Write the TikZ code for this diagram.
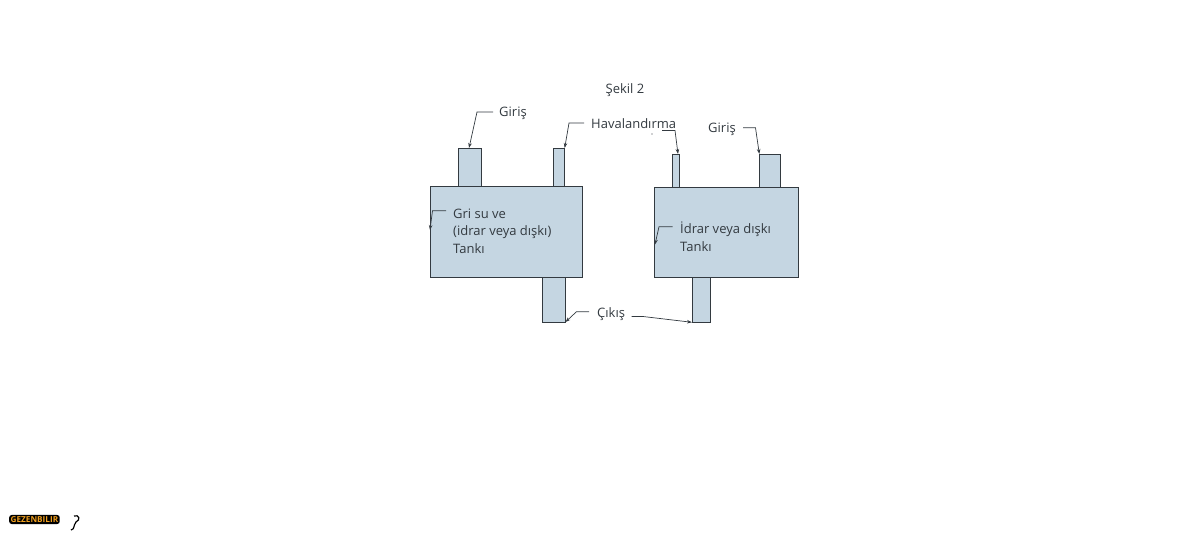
\documentclass[tikz,border=0pt]{standalone}
\usepackage{fontspec}
\setmainfont{Open Sans}
\usetikzlibrary{arrows.meta}
\definecolor{tankfill}{HTML}{C5D6E2}
\definecolor{ink}{HTML}{333A40}
\definecolor{logoorange}{HTML}{F2A01E}
\tikzset{
  x=1pt,y=-1pt,
  partbox/.style={draw=ink,fill=tankfill,line width=0.9pt,inner sep=0pt,minimum width=#1,anchor=north west},
  lbl/.style={font=\fontsize{13}{17.5}\selectfont,text=ink,inner sep=0pt},
  leader/.style={draw=ink,line width=0.7pt,-{Stealth[length=5pt,width=3.5pt]}},
}
\begin{document}
\begin{tikzpicture}
\useasboundingbox (0,0) rectangle (1200,537);
% left tank
\node[partbox=23.5pt,minimum height=38pt] (lin) at (457.8,148.3) {};
\node[partbox=11.5pt,minimum height=38pt] (lvent) at (552.8,148.3) {};
\node[partbox=22.5pt,minimum height=45pt] (lout) at (542.2,277.3) {};
\node[partbox=152pt,minimum height=91pt] (ltank) at (430,186.3) {};
% right tank
\node[partbox=7pt,minimum height=32.5pt] (rvent) at (672,154.2) {};
\node[partbox=20.5pt,minimum height=32.5pt] (rin) at (759.3,154.2) {};
\node[partbox=17.5pt,minimum height=45pt] (rout) at (692.3,277.3) {};
\node[partbox=143.5pt,minimum height=90.6pt] (rtank) at (654.3,186.7) {};
% labels
\node[lbl] (title) at (625,90) {Şekil 2};
\node[lbl,anchor=west] (g1) at (499,113.5) {Giriş};
\node[lbl,anchor=west] (hav) at (591,124) {Havalandırma};
\node[lbl,anchor=west] (g2) at (708,129.5) {Giriş};
\node[lbl,anchor=west,align=left] (ltxt) at (453,231) {Gri su ve\\(idrar veya dışkı)\\Tankı};
\node[lbl,anchor=west,align=left] (rtxt) at (680,236.5) {İdrar veya dışkı\\Tankı};
\node[lbl,anchor=west] (cik) at (597,314.5) {Çıkış};
\fill[ink] (652,134) circle (0.6pt);
% leader points
\coordinate (a1) at (493,112); \coordinate (a2) at (477,112); \coordinate (a3) at (469,148);
\coordinate (b1) at (584,123); \coordinate (b2) at (569,123); \coordinate (b3) at (564.7,148);
\coordinate (c1) at (662,130.5); \coordinate (c2) at (675,130.5); \coordinate (c3) at (678,154);
\coordinate (d1) at (743,127.7); \coordinate (d2) at (755.5,127.7); \coordinate (d3) at (759.3,154);
\coordinate (e1) at (446,210.7); \coordinate (e2) at (432.5,210.7); \coordinate (e3) at (430,230);
\coordinate (f1) at (672.7,226.7); \coordinate (f2) at (659,226.7); \coordinate (f3) at (655,244.5);
\coordinate (h1) at (589,311.7); \coordinate (h2) at (576.5,311.7); \coordinate (h3) at (565.5,322);
\coordinate (i1) at (631.7,316.5); \coordinate (i2) at (643,316.5); \coordinate (i3) at (692,322.3);
\draw[leader] (a1) -- (a2) -- (a3);
\draw[leader] (b1) -- (b2) -- (b3);
\draw[leader] (c1) -- (c2) -- (c3);
\draw[leader] (d1) -- (d2) -- (d3);
\draw[leader] (e1) -- (e2) -- (e3);
\draw[leader] (f1) -- (f2) -- (f3);
\draw[leader] (h1) -- (h2) -- (h3);
\draw[leader] (i1) -- (i2) -- (i3);
% logo
\node[fill=black,rounded corners=2.5pt,inner xsep=1.5pt,inner ysep=1.5pt,text=logoorange,font=\fontsize{8.2}{9}\selectfont\bfseries,anchor=west] (logo) at (9,519.5) {GEZENBILIR};
\draw[black,line width=1.2pt] (74,516) .. controls (79,514) and (81,520) .. (76,522) .. controls (73,526) and (75,529) .. (71,530);
\end{tikzpicture}
\end{document}
